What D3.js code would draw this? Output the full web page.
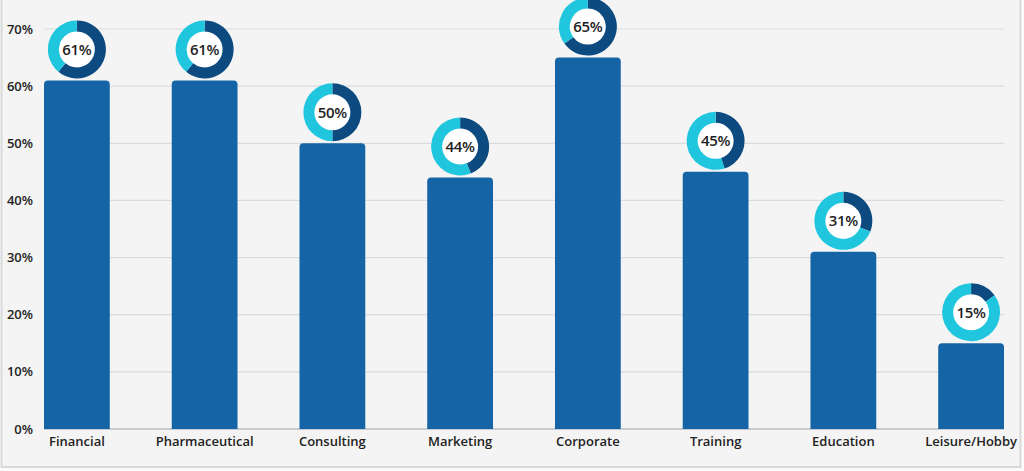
<!DOCTYPE html>
<html><head><meta charset="utf-8">
<script src="https://cdn.jsdelivr.net/npm/d3@7/dist/d3.min.js"></script>
<style>
html,body{margin:0;padding:0;background:#fbfbfb;}
svg{display:block;}
</style></head>
<body>
<svg id="c" width="1024" height="471"></svg>
<script>
const categories = ["Financial","Pharmaceutical","Consulting","Marketing","Corporate","Training","Education","Leisure/Hobby"];
const values = [61,61,50,44,65,45,31,15];
const yTicks = [0,10,20,30,40,50,60,70];

const W = 1024, H = 471;
const svg = d3.select("#c");
const font = "'Open Sans', 'Noto Sans', sans-serif";

// background frame
svg.append("rect").attr("x",1.5).attr("y",-2).attr("width",1019).attr("height",469)
  .attr("fill","#f4f4f4").attr("stroke","#d9d9d9").attr("stroke-width",2);

const x = d3.scaleBand().domain(categories).range([44, 1004]).paddingInner(0.485).paddingOuter(0);
const y = d3.scaleLinear().domain([0,70]).range([429, 29]);

const g = svg.append("g");

// gridlines
g.selectAll("line.grid").data(yTicks).join("line")
  .attr("x1",44).attr("x2",1004)
  .attr("y1",d=>y(d)).attr("y2",d=>y(d))
  .attr("stroke",d=>d===0?"#b8bcc2":"#d8dbdf").attr("stroke-width",d=>d===0?1.5:1.2);

// y tick labels
g.selectAll("text.yt").data(yTicks).join("text")
  .attr("x",33).attr("y",d=>y(d)+4.5)
  .attr("text-anchor","end")
  .attr("font-family",font).attr("font-size",13).attr("font-weight",600)
  .attr("fill","#222").text(d=>d+"%");

// bars with rounded top corners
const r = 4;
function barPath(x0,w,yt,yb){
  return `M${x0},${yb}V${yt+r}Q${x0},${yt} ${x0+r},${yt}H${x0+w-r}Q${x0+w},${yt} ${x0+w},${yt+r}V${yb}Z`;
}
g.selectAll("path.bar").data(values).join("path")
  .attr("d",(d,i)=>barPath(x(categories[i]), x.bandwidth(), y(d), y(0)))
  .attr("fill","#1464a6");

// category labels
g.selectAll("text.xl").data(categories).join("text")
  .attr("x",d=>x(d)+x.bandwidth()/2).attr("y",446)
  .attr("text-anchor","middle")
  .attr("font-family",font).attr("font-size",13).attr("font-weight",600)
  .attr("fill","#222").text(d=>d);

// donuts
const outerR = 29, innerR = 18;
const arc = d3.arc().innerRadius(innerR).outerRadius(outerR);
values.forEach((v,i)=>{
  const cx = x(categories[i]) + x.bandwidth()/2;
  const cy = y(v) - 31;
  const dg = g.append("g").attr("transform",`translate(${cx},${cy})`);
  dg.append("circle").attr("r",innerR).attr("fill","#ffffff");
  const a = 2*Math.PI*v/100;
  dg.append("path").attr("d",arc({startAngle:0,endAngle:a})).attr("fill","#0c4a80");
  dg.append("path").attr("d",arc({startAngle:a,endAngle:2*Math.PI})).attr("fill","#1fc6de");
  dg.append("text").attr("y",5.5).attr("text-anchor","middle")
    .attr("font-family",font).attr("font-size",15).attr("font-weight",600)
    .attr("letter-spacing","-0.3")
    .attr("fill","#1e1e1e").text(v+"%");
});
</script>
</body></html>
